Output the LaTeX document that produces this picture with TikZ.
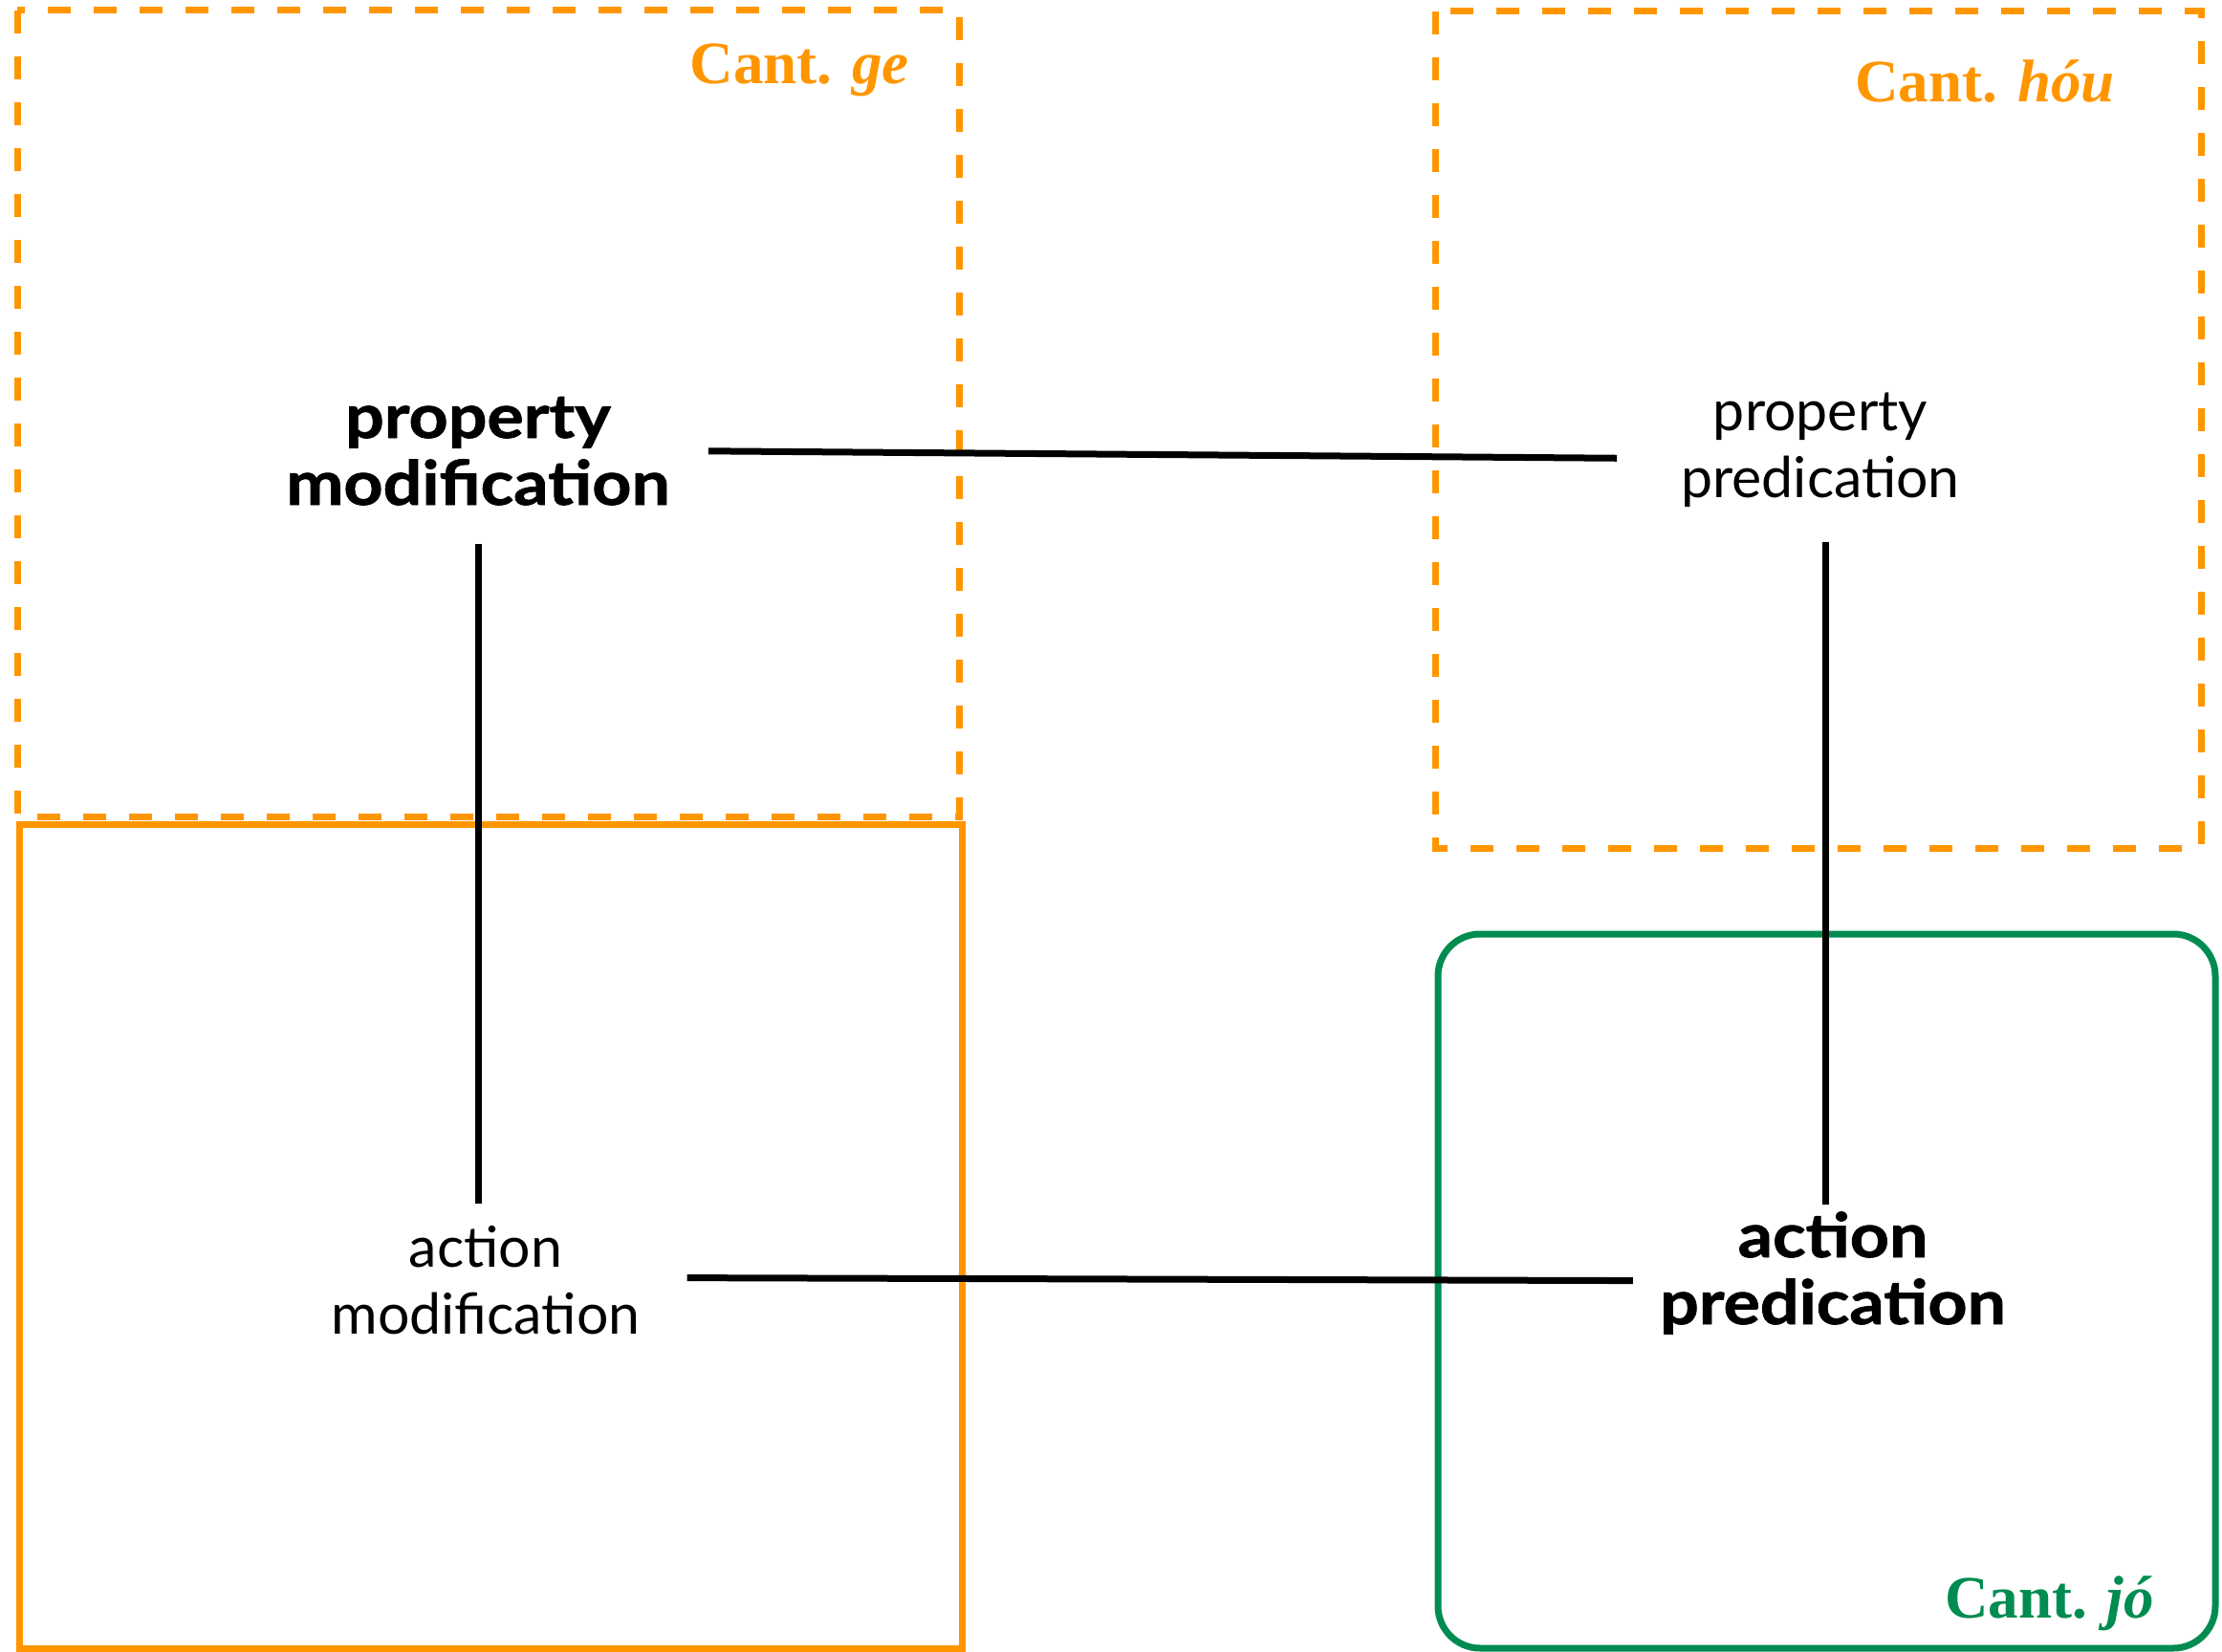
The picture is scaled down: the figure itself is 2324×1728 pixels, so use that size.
\documentclass[tikz,border=0pt]{standalone}
\usepackage{fontspec}
\setmainfont{Lato}[BoldFeatures={FakeStretch=1.12,FakeBold=1.2}]
\newfontfamily\capfont{Liberation Serif}
\definecolor{cantorange}{RGB}{255,150,0}
\definecolor{cantgreen}{RGB}{0,140,80}

\begin{document}
\begin{tikzpicture}[x=1pt,y=-1pt,
  zone/.style={line width=7pt},
  dashedzone/.style={zone,draw=cantorange,dash pattern=on 24pt off 24pt},
  link/.style={line width=7pt,black},
  strong/.style={font=\fontsize{64}{70}\selectfont\bfseries,align=center,inner sep=0pt,anchor=base},
  plain/.style={font=\fontsize{59}{70}\selectfont,align=center,inner sep=0pt,anchor=base},
  cant/.style={font=\fontsize{63}{70}\capfont\bfseries,inner sep=0pt,anchor=base east}]
  \useasboundingbox (0,0) rectangle (2324,1728);

  % marker zones
  \draw[dashedzone] (18,11) rectangle (1003,854);
  \draw[dashedzone] (1501,12) rectangle (2302,887);
  \draw[zone,draw=cantorange] (20,862) rectangle (1006,1724);
  \draw[zone,draw=cantgreen,rounded corners=44pt] (1504,977) rectangle (2317,1724);

  \node[cant,text=cantorange] (ge) at (951,88) {Cant. \textit{ge}};
  \node[cant,text=cantorange] (hou) at (2212,107) {Cant. \textit{hóu}};
  \node[cant,text=cantgreen] (jo) at (2253,1692) {Cant. \textit{jó}};

  % functions (base anchor sits on the second line)
  \node[strong] (pm) at (500,528) {property\\modification};
  \node[plain] (pp) at (1904,520) {property\\predication};
  \node[plain] (am) at (508,1395) {action\\modification};
  \node[strong] (ap) at (1917,1385) {action\\predication};

  % connections
  \draw[link] ([xshift=40pt]pm.east) -- ([xshift=-67pt,yshift=-9pt]pp.west);
  \draw[link] ([yshift=-40pt]pm.south) -- ([yshift=23pt]pm.south |- am.north);
  \draw[link] ([xshift=5pt,yshift=-37pt]pp.south) -- ([xshift=5pt,yshift=7pt]pp.south |- ap.north);
  \draw[link] ([xshift=49pt,yshift=2pt]am.east) -- ([xshift=-28pt,yshift=-8pt]ap.west);
\end{tikzpicture}
\end{document}
